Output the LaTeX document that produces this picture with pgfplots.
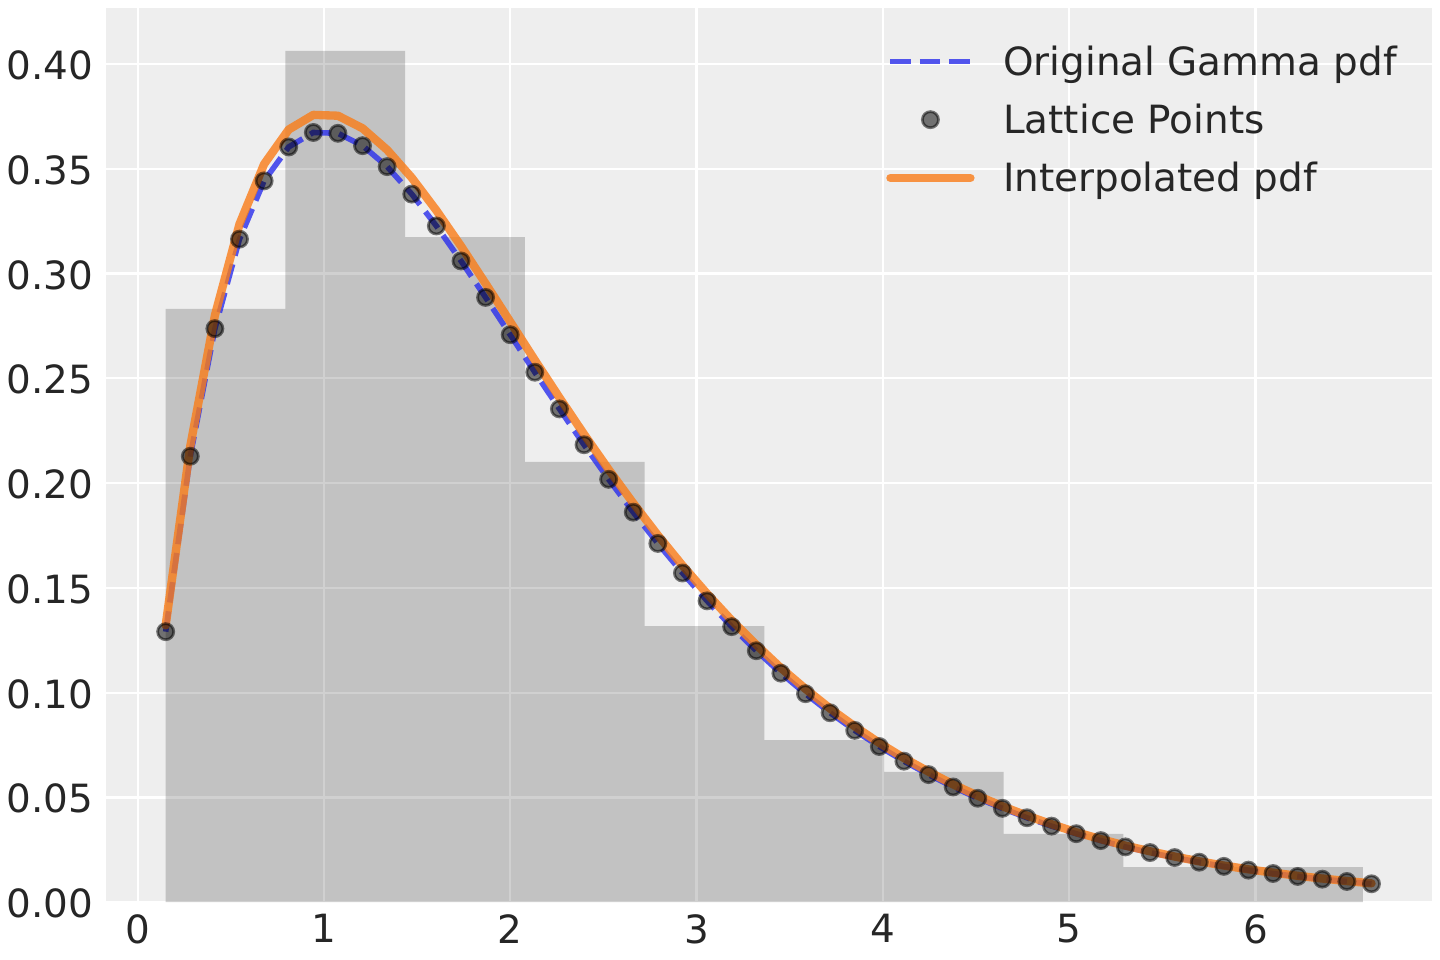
\documentclass[border=0pt]{standalone}
\usepackage{pgfplots}
\usepackage{pgfplotstable}
\pgfplotsset{compat=1.18}
\usepackage{fontspec}
\setmainfont{DejaVu Sans}
\definecolor{bgc}{HTML}{EEEEEE}
\definecolor{tc}{HTML}{262626}
\definecolor{cblue}{HTML}{2A2EEC}
\definecolor{corange}{HTML}{FA7C17}

\pgfplotsset{
  lineleg/.style={legend image code/.code={\draw[##1] (0bp,0bp) -- (28.8bp,0bp);}},
  markleg/.style={legend image code/.code={\path[draw=none,fill=none] (0bp,0bp) -- (28.8bp,0bp); \draw[##1, only marks] plot coordinates {(14.4bp,0bp)};}},
}

\pgfplotstableread{
x f g
0.1500 0.1291 0.1321
0.2821 0.2128 0.2177
0.4142 0.2737 0.2800
0.5463 0.3164 0.3236
0.6784 0.3442 0.3522
0.8105 0.3604 0.3687
0.9426 0.3673 0.3757
1.0747 0.3669 0.3753
1.2068 0.3610 0.3693
1.3389 0.3510 0.3590
1.4710 0.3379 0.3457
1.6031 0.3227 0.3301
1.7352 0.3060 0.3131
1.8673 0.2886 0.2952
1.9994 0.2708 0.2770
2.1315 0.2529 0.2587
2.2636 0.2354 0.2408
2.3957 0.2183 0.2233
2.5278 0.2018 0.2065
2.6599 0.1861 0.1904
2.7920 0.1712 0.1751
2.9241 0.1571 0.1607
3.0562 0.1438 0.1472
3.1883 0.1315 0.1345
3.3204 0.1200 0.1228
3.4525 0.1093 0.1118
3.5846 0.0995 0.1018
3.7167 0.0904 0.0924
3.8488 0.0820 0.0839
3.9809 0.0743 0.0760
4.1130 0.0673 0.0688
4.2451 0.0609 0.0623
4.3772 0.0550 0.0562
4.5093 0.0496 0.0508
4.6414 0.0448 0.0458
4.7735 0.0403 0.0413
4.9056 0.0363 0.0372
5.0377 0.0327 0.0334
5.1698 0.0294 0.0301
5.3019 0.0264 0.0270
5.4340 0.0237 0.0243
5.5661 0.0213 0.0218
5.6982 0.0191 0.0195
5.8303 0.0171 0.0175
5.9624 0.0153 0.0157
6.0945 0.0137 0.0141
6.2266 0.0123 0.0126
6.3587 0.0110 0.0113
6.4908 0.0099 0.0101
6.6229 0.0088 0.0090
}\lattice

\pgfplotstableread{
x h
0.1500 0.2831
0.7925 0.4062
1.4352 0.3174
2.0779 0.2101
2.7206 0.1318
3.3633 0.0774
4.0060 0.0622
4.6487 0.0326
5.2914 0.0168
5.9341 0.0168
6.5768 0.0168
}\hist

\begin{document}
\begin{tikzpicture}
\path[use as bounding box] (-37.98bp,-20.77bp) rectangle (480.39bp,324.78bp);
\begin{axis}[
  at={(0,0)}, anchor=south west,
  scale only axis,
  width=477.4bp, height=321.9bp,
  xmin=-0.173, xmax=6.946,
  ymin=0, ymax=0.4267,
  axis background/.style={fill=bgc},
  axis line style={draw=none},
  major tick length=0pt,
  grid=major,
  grid style={white, line width=0.8bp},
  xtick={0,1,2,3,4,5,6},
  ytick={0,0.05,0.1,0.15,0.2,0.25,0.3,0.35,0.4},
  /pgf/number format/assume math mode=true,
  xticklabel style={font=\fontsize{14.05}{16.86}\selectfont, text=tc, inner sep=0pt, anchor=north, yshift=-4.2bp},
  yticklabel style={font=\fontsize{14.05}{16.86}\selectfont, text=tc, inner sep=0pt, anchor=east, xshift=-4.3bp, yshift=-0.5bp,
    /pgf/number format/.cd, fixed, fixed zerofill, precision=2},
  legend cell align=left,
  legend style={at={(1,1)}, anchor=north east, xshift=-12.6bp, yshift=-12.2bp,
    draw=none, fill=none, inner sep=0pt, outer sep=0pt,
    font=\fontsize{14.05}{16.86}\selectfont, text=tc,
    row sep=7bp, column sep=10.3bp,
    nodes={inner sep=0pt, text height=12bp, text depth=2bp}},
]
\addplot[ybar interval, draw=none, fill=black, fill opacity=0.185, forget plot] table[x=x, y=h] {\hist};

\addplot[cblue, draw opacity=0.8, line width=2bp, dash pattern=on 7.4bp off 3.2bp, no markers, lineleg]
  table[x=x, y=f] {\lattice};
\addlegendentry{Original Gamma pdf}

\addplot[only marks, mark=*, mark size=2.9bp,
  mark options={fill=black, draw=black, fill opacity=0.52, draw opacity=0.52, line width=1bp}, markleg]
  table[x=x, y=f] {\lattice};
\addlegendentry{Lattice Points}

\addplot[corange, draw opacity=0.8, line width=3bp, line cap=round, line join=round, no markers, lineleg]
  table[x=x, y=g] {\lattice};
\addlegendentry{Interpolated pdf}
\end{axis}
\end{tikzpicture}
\end{document}
